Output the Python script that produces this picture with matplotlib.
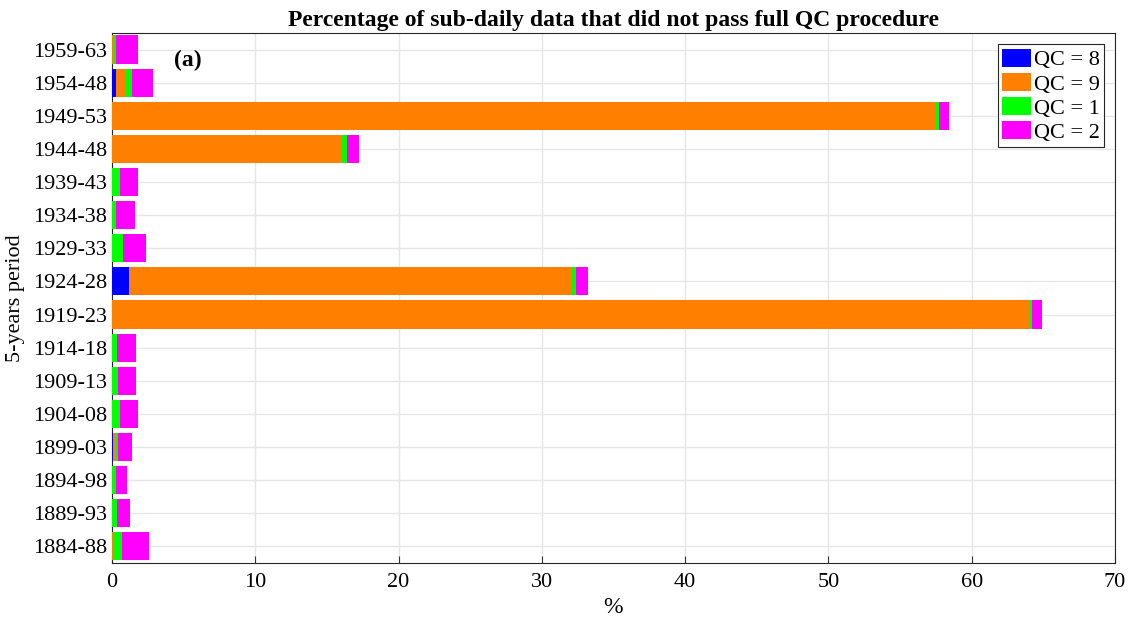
import numpy as np
import matplotlib
matplotlib.use('Agg')
import matplotlib.pyplot as plt

plt.rcParams['font.family'] = ['Liberation Serif', 'DejaVu Serif']

# 5-year periods, bottom to top
periods = ['1884-88', '1889-93', '1894-98', '1899-03', '1904-08', '1909-13',
           '1914-18', '1919-23', '1924-28', '1929-33', '1934-38', '1939-43',
           '1944-48', '1949-53', '1954-48', '1959-63']

# percentage of sub-daily data per QC flag
qc8 = [0.00, 0.00, 0.00, 0.05, 0.00, 0.00, 0.00, 0.00, 1.16, 0.00, 0.00, 0.00, 0.00, 0.00, 0.28, 0.00]
qc9 = [0.09, 0.00, 0.00, 0.14, 0.00, 0.00, 0.00, 64.06, 30.87, 0.00, 0.00, 0.00, 16.03, 57.50, 0.65, 0.10]
qc1 = [0.63, 0.37, 0.25, 0.20, 0.56, 0.44, 0.37, 0.14, 0.35, 0.79, 0.25, 0.56, 0.39, 0.23, 0.49, 0.20]
qc2 = [1.84, 0.91, 0.81, 1.02, 1.26, 1.21, 1.30, 0.68, 0.84, 1.60, 1.37, 1.28, 0.82, 0.66, 1.42, 1.50]

series = [(qc8, 'QC = 8', (0, 0, 1)),
          (qc9, 'QC = 9', (1, 0.5, 0)),
          (qc1, 'QC = 1', (0, 1, 0)),
          (qc2, 'QC = 2', (1, 0, 1))]

fig = plt.figure(figsize=(11.32, 6.22), dpi=100)
ax = fig.add_axes([0.0989, 0.0949, 0.8861, 0.8521])

y = np.arange(1, len(periods) + 1)
left = np.zeros(len(periods))
for vals, label, color in series:
    vals = np.array(vals)
    ax.barh(y, vals, height=0.85, left=left, color=color, label=label,
            edgecolor='none', zorder=3)
    left += vals

ax.set_xlim(0, 70)
ax.set_ylim(0.5, 16.5)
ax.set_xticks(np.arange(0, 71, 10))
ax.set_yticks(y)
ax.set_yticklabels(periods)
ax.tick_params(direction='in', labelsize=16, length=5, color='#333333')
ax.tick_params(axis='x', pad=7)
ax.grid(True, color='#e6e6e6', linewidth=1, zorder=0)
for s in ax.spines.values():
    s.set_color('#262626')
    s.set_linewidth(0.8)

ax.set_title('Percentage of sub-daily data that did not pass full QC procedure',
             fontsize=17, fontweight='bold', pad=5)
ax.set_xlabel('%', fontsize=17, labelpad=4)
ax.set_ylabel('5-years period', fontsize=16)
ax.yaxis.set_label_coords(-0.087, 0.5)
ax.text(0.062, 0.949, '(a)', transform=ax.transAxes, fontsize=17,
        fontweight='bold', va='center')

leg = ax.legend(loc='upper right', fontsize=16, frameon=True, fancybox=False,
                edgecolor='#262626', framealpha=1, handlelength=1.3,
                handleheight=0.9, handletextpad=0.1, labelspacing=0.1,
                borderpad=0.2, borderaxespad=0.5)
leg.get_frame().set_linewidth(0.8)

fig.savefig('out.png', dpi=100)
